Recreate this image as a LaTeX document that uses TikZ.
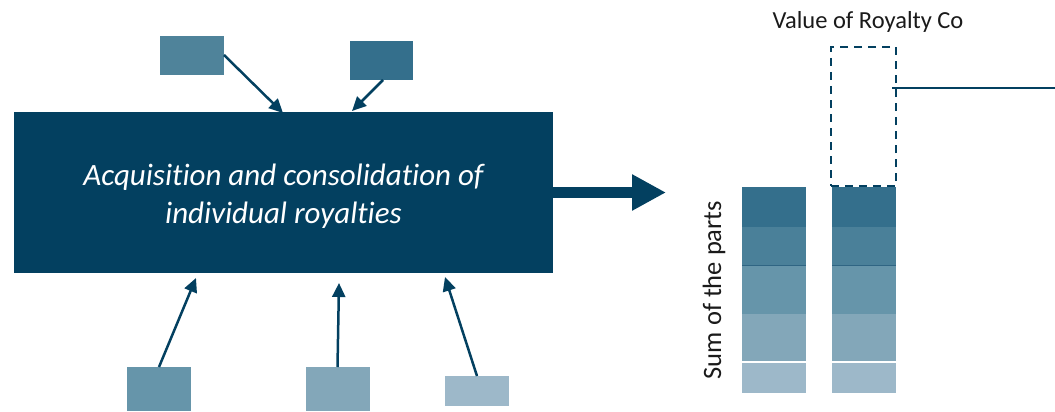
\documentclass[tikz,border=0pt]{standalone}
\usepackage{fontspec}
\setmainfont{Carlito}[RawFeature=-liga]
\usetikzlibrary{arrows.meta}
\definecolor{navy}{HTML}{034060}
\definecolor{cA}{HTML}{346F8C}
\definecolor{cB}{HTML}{4A8099}
\definecolor{cC}{HTML}{6695AA}
\definecolor{cD}{HTML}{83A7B9}
\definecolor{cE}{HTML}{9DB8C9}
\definecolor{cT1}{HTML}{4F839A}
\definecolor{cSep}{HTML}{2F6583}
\definecolor{txt}{HTML}{1A1A1A}
\tikzset{
  blk/.style={draw=none, inner sep=0pt, outer sep=0pt, anchor=north west},
  arr/.style={draw=navy, line width=2.5pt, -{Triangle[length=14pt,width=13pt]}},
  bigarr/.style={draw=navy, line width=11pt, -{Triangle[length=34pt,width=34pt]}},
  lbl/.style={text=txt, inner sep=0pt}
}
\begin{document}
\begin{tikzpicture}[x=1pt,y=-1pt]
\useasboundingbox (0,0) rectangle (1055,412);
% main box
\node[blk, fill=navy, minimum width=539pt, minimum height=161pt] (main) at (14,112) {};
\node[text=white, align=center, font=\itshape\fontsize{31}{38}\selectfont, inner sep=0pt] (maintxt) at (283.5,196) {Acquisition and consolidation of\\individual royalties};
% top boxes
\node[blk, fill=cT1, minimum width=64pt, minimum height=39pt] (t1) at (160,36) {};
\node[blk, fill=cA, minimum width=63pt, minimum height=39pt] (t2) at (350,41) {};
% bottom boxes
\node[blk, fill=cC, minimum width=64pt, minimum height=44pt] (b1) at (127,367) {};
\node[blk, fill=cD, minimum width=64pt, minimum height=44pt] (b2) at (306,367) {};
\node[blk, fill=cE, minimum width=64pt, minimum height=30pt] (b3) at (445,376) {};
% arrow targets
\coordinate (a1) at (283,113);
\coordinate (a2) at (352,111);
\coordinate (a3) at (196,278);
\coordinate (a4) at (339,283);
\coordinate (a5) at (445,277);
\coordinate (s1) at (224,55);
\draw[arr] (s1) -- (a1);
\draw[arr] ([xshift=1.5pt]t2.south) -- (a2);
\draw[arr] (b1.north) -- (a3);
\draw[arr] ([xshift=-0.5pt]b2.north) -- (a4);
\draw[arr] (b3.north) -- (a5);
% big arrow
\coordinate (bigend) at (666,192.5);
\draw[bigarr] (main.east |- bigend) -- (bigend);
% bars
\foreach \bx/\nm in {742/l, 832/r}{
  \node[blk, fill=cA, minimum width=64pt, minimum height=40pt] (\nm1) at (\bx,187) {};
  \node[blk, fill=cB, minimum width=64pt, minimum height=38pt] (\nm2) at (\bx,227) {};
  \node[blk, fill=cC, minimum width=64pt, minimum height=49pt] (\nm3) at (\bx,265) {};
  \node[blk, fill=cD, minimum width=64pt, minimum height=48pt] (\nm4) at (\bx,314) {};
  \node[blk, fill=cE, minimum width=64pt, minimum height=31pt] (\nm5) at (\bx,362) {};
  \draw[cSep, line width=1pt] (\nm3.north west) -- (\nm3.north east);
  \draw[white, line width=1.5pt] (\nm5.north west) -- (\nm5.north east);
}
% dashed value box
\node[blk, draw=navy, line width=2.8pt, dash pattern=on 8pt off 6pt, minimum width=65pt, minimum height=139pt] (vc) at (831,47) {};
\coordinate (edge) at (1055,88);
\draw[navy, line width=2.5pt] ([xshift=-4pt]vc.east |- edge) -- (edge);
% labels
\node[lbl, font=\fontsize{24.5}{28}\selectfont] (vlab) at (868,22) {Value of Royalty Co};
\node[lbl, rotate=90, font=\fontsize{26.5}{30}\selectfont] (slab) at (714,290) {Sum of the parts};
\end{tikzpicture}
\end{document}
